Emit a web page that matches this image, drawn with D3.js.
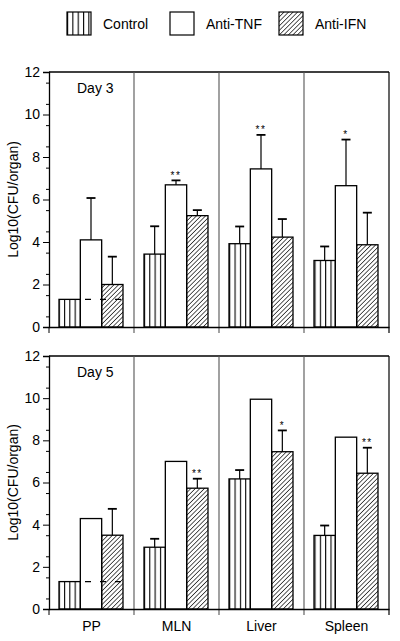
<!DOCTYPE html>
<html>
<head>
<meta charset="utf-8">
<script src="https://cdn.jsdelivr.net/npm/d3@7"></script>
<style>
  body { margin: 0; background: #fff; }
  svg { display: block; font-family: "Liberation Sans", Arial, sans-serif; }
</style>
</head>
<body>
<div id="chart"></div>
<script>
const organs = ['PP', 'MLN', 'Liver', 'Spleen'];
const series = ['Control', 'Anti-TNF', 'Anti-IFN'];

// mean log10 CFU per organ, one row per organ: [Control, Anti-TNF, Anti-IFN]
const day3Means = [[1.3, 4.1, 2.0], [3.43, 6.69, 5.24], [3.92, 7.44, 4.23], [3.13, 6.65, 3.87]];
const day3Errors = [[null, 1.97, 1.31], [1.31, 0.21, 0.26], [0.81, 1.6, 0.85], [0.66, 2.17, 1.51]];
const day3Stars = [['', '', ''], ['', '**', ''], ['', '**', ''], ['', '*', '']];

const day5Means = [[1.3, 4.29, 3.5], [2.93, 7.0, 5.73], [6.17, 9.95, 7.46], [3.49, 8.15, 6.44]];
const day5Errors = [[null, null, 1.25], [0.4, null, 0.45], [0.42, null, 1.01], [0.47, null, 1.21]];
const day5Stars = [['', '', ''], ['', '', '**'], ['', '', '*'], ['', '', '**']];

const detectionLimit = 1.3;
const yTicks = [0, 2, 4, 6, 8, 10, 12];

const width = 400, height = 641;
const left = 49, right = 389;

const svg = d3.select('#chart').append('svg')
    .attr('width', width)
    .attr('height', height);

const defs = svg.append('defs');
defs.append('pattern')
    .attr('id', 'vert')
    .attr('patternUnits', 'userSpaceOnUse')
    .attr('width', 5.33).attr('height', 10)
    .append('line')
        .attr('x1', 0.5).attr('x2', 0.5).attr('y1', 0).attr('y2', 10)
        .attr('stroke', '#000').attr('stroke-width', 1.2);
defs.append('pattern')
    .attr('id', 'diag')
    .attr('patternUnits', 'userSpaceOnUse')
    .attr('width', 3.2).attr('height', 3.2)
    .attr('patternTransform', 'rotate(45)')
    .append('line')
        .attr('x1', 0).attr('x2', 0).attr('y1', 0).attr('y2', 3.2)
        .attr('stroke', '#000').attr('stroke-width', 1.3);

const fills = ['url(#vert)', '#fff', 'url(#diag)'];

// legend
const legendX = [67, 170, 279];
const legend = svg.selectAll('.legend')
    .data(series)
    .join('g')
        .attr('class', 'legend')
        .attr('transform', (d, i) => `translate(${legendX[i]},12)`);
legend.append('rect')
    .attr('width', 24).attr('height', 23)
    .attr('fill', '#fff');
legend.append('rect')
    .attr('width', 24).attr('height', 23)
    .attr('fill', (d, i) => fills[i])
    .attr('stroke', '#000').attr('stroke-width', 1.2);
legend.append('text')
    .attr('x', 36).attr('y', 17)
    .attr('font-size', 14)
    .text(d => d);

const x = d3.scaleBand().domain(organs).range([left, right]);
const xs = d3.scaleBand().domain(series).range([10, 74]);

const drawPanel = (top, bottom, dayLabel, means, errors, stars, showCats) => {
    const y = d3.scaleLinear().domain([0, 12]).range([bottom, top]);
    const g = svg.append('g');

    // frame + band dividers
    g.append('line')
        .attr('x1', left).attr('x2', right).attr('y1', top).attr('y2', top)
        .attr('stroke', '#000').attr('stroke-width', 1.3);
    g.append('line')
        .attr('x1', right).attr('x2', right).attr('y1', top).attr('y2', bottom + 6)
        .attr('stroke', '#000').attr('stroke-width', 1.2);
    g.selectAll('.divider')
        .data(organs.slice(1))
        .join('line')
            .attr('class', 'divider')
            .attr('x1', d => x(d)).attr('x2', d => x(d))
            .attr('y1', top).attr('y2', bottom + 6)
            .attr('stroke', '#555').attr('stroke-width', 1.1);

    const rows = organs.map((o, i) => series.map((s, j) => ({
        organ: o, s, j, v: means[i][j], e: errors[i][j], star: stars[i][j]
    }))).flat();

    g.selectAll('.bar-bg')
        .data(rows)
        .join('rect')
            .attr('class', 'bar-bg')
            .attr('x', d => x(d.organ) + xs(d.s))
            .attr('width', xs.bandwidth())
            .attr('y', d => y(d.v))
            .attr('height', d => bottom - y(d.v))
            .attr('fill', '#fff');
    g.selectAll('.bar')
        .data(rows)
        .join('rect')
            .attr('class', 'bar')
            .attr('x', d => x(d.organ) + xs(d.s))
            .attr('width', xs.bandwidth())
            .attr('y', d => y(d.v))
            .attr('height', d => bottom - y(d.v))
            .attr('fill', d => fills[d.j])
            .attr('stroke', '#000').attr('stroke-width', 1.3);

    const withErr = rows.filter(d => d.e != null);
    const cx = d => x(d.organ) + xs(d.s) + xs.bandwidth() / 2;
    g.selectAll('.err')
        .data(withErr)
        .join('line')
            .attr('class', 'err')
            .attr('x1', cx).attr('x2', cx)
            .attr('y1', d => y(d.v)).attr('y2', d => y(d.v + d.e))
            .attr('stroke', '#000').attr('stroke-width', 1.2);
    g.selectAll('.cap')
        .data(withErr)
        .join('line')
            .attr('class', 'cap')
            .attr('x1', d => cx(d) - 4.5).attr('x2', d => cx(d) + 4.5)
            .attr('y1', d => y(d.v + d.e)).attr('y2', d => y(d.v + d.e))
            .attr('stroke', '#000').attr('stroke-width', 1.8);

    g.selectAll('.star')
        .data(rows.filter(d => d.star))
        .join('text')
            .attr('class', 'star')
            .attr('x', cx)
            .attr('y', d => y(d.v + (d.e || 0)) - 1.5)
            .attr('text-anchor', 'middle')
            .attr('font-size', 10)
            .attr('letter-spacing', 1.5)
            .text(d => d.star);

    // detection limit dashes in PP
    g.append('line')
        .attr('x1', x('PP') + 36).attr('x2', x('PP') + 72)
        .attr('y1', y(detectionLimit)).attr('y2', y(detectionLimit))
        .attr('stroke', '#000').attr('stroke-width', 1.4)
        .attr('stroke-dasharray', '6,9');

    // y axis
    const yAxis = g.append('g')
        .attr('transform', `translate(${left},0)`)
        .call(d3.axisLeft(y).tickValues(yTicks).tickSize(6).tickPadding(3));
    yAxis.select('.domain').attr('stroke-width', 1.3);
    yAxis.selectAll('text').attr('font-size', 14).attr('font-family', '"Liberation Sans", Arial, sans-serif');
    g.append('g')
        .attr('transform', `translate(${left},0)`)
        .call(d3.axisLeft(y).tickValues(d3.range(0.5, 12, 1)).tickSize(3).tickFormat(''))
        .select('.domain').remove();

    // x axis
    const xAxis = g.append('g')
        .attr('transform', `translate(0,${bottom})`)
        .call(d3.axisBottom(x).tickSize(0).tickPadding(12).tickFormat(showCats ? d => d : ''));
    xAxis.select('.domain').attr('stroke-width', 1.3);
    xAxis.selectAll('text').attr('font-size', 14).attr('font-family', '"Liberation Sans", Arial, sans-serif');
    g.append('line')
        .attr('x1', left).attr('x2', left).attr('y1', bottom).attr('y2', bottom + 6)
        .attr('stroke', '#000');

    g.append('text')
        .attr('x', left + 28).attr('y', top + 21)
        .attr('font-size', 14)
        .text(dayLabel);

    g.append('text')
        .attr('transform', `translate(18,${(top + bottom) / 2}) rotate(-90)`)
        .attr('text-anchor', 'middle')
        .attr('font-size', 14)
        .text('Log10(CFU/organ)');
};

drawPanel(72, 327, 'Day 3', day3Means, day3Errors, day3Stars, false);
drawPanel(356, 609, 'Day 5', day5Means, day5Errors, day5Stars, true);
</script>
</body>
</html>
